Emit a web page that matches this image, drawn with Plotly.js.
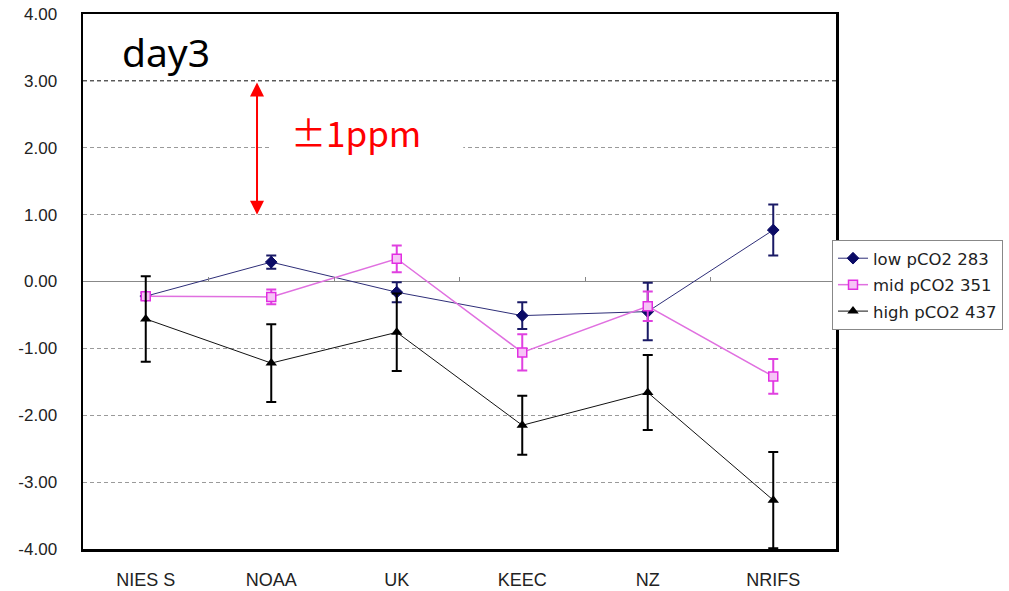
<!DOCTYPE html>
<html>
<head>
<meta charset="utf-8">
<script src="https://cdn.plot.ly/plotly-3.0.1.min.js"></script>
<style>html,body{margin:0;padding:0;background:#fff;}#chart{width:1009px;height:591px;}</style>
</head>
<body>
<div id="chart"></div>
<script>
var categories = ["NIES S", "NOAA", "UK", "KEEC", "NZ", "NRIFS"];
var lowValues  = [-0.22, 0.29, -0.16, -0.51, -0.45, 0.77];
var lowErrors  = [0.05, 0.10, 0.15, 0.20, 0.43, 0.38];
var midValues  = [-0.22, -0.23, 0.34, -1.06, -0.37, -1.42];
var midErrors  = [0.05, 0.11, 0.20, 0.27, 0.22, 0.26];
var highValues = [-0.56, -1.22, -0.76, -2.15, -1.66, -3.27];
var highErrors = [0.64, 0.58, 0.58, 0.44, 0.56, 0.72];
var seriesNames = ["low pCO2 283", "mid pCO2 351", "high pCO2 437"];
var yTickVals = [4, 3, 2, 1, 0, -1, -2, -3, -4];
var yTickText = ["4.00", "3.00", "2.00", "1.00", "0.00", "-1.00", "-2.00", "-3.00", "-4.00"];
var boundaryTicks = [0.5, 1.5, 2.5, 3.5, 4.5];

var traces = [
  {
    x: categories, y: lowValues, name: seriesNames[0], type: "scatter", mode: "lines+markers",
    legendgroup: "a",
    line: {color: "#2e2e78", width: 1},
    marker: {symbol: "diamond", size: 9, color: "#0b0b66", line: {color: "#0b0b66", width: 1}},
    error_y: {type: "data", array: lowErrors, visible: true, color: "#1a1a66", thickness: 2, width: 5}
  },
  {
    x: categories, y: midValues, name: seriesNames[1], type: "scatter", mode: "lines+markers",
    legendgroup: "b",
    line: {color: "#e070e0", width: 1.5},
    marker: {symbol: "square", size: 9, color: "#f6c4f6", line: {color: "#e22ee2", width: 1.5}},
    error_y: {type: "data", array: midErrors, visible: true, color: "#e040e0", thickness: 2, width: 5}
  },
  {
    x: categories, y: highValues, name: seriesNames[2], type: "scatter", mode: "lines+markers",
    legendgroup: "c",
    line: {color: "#111111", width: 1},
    marker: {symbol: "triangle-up", size: 10, color: "#000000"},
    error_y: {type: "data", array: highErrors, visible: true, color: "#000000", thickness: 2, width: 5}
  },
  {
    x: [], y: [], xaxis: "x2", yaxis: "y", showlegend: false, hoverinfo: "skip", type: "scatter"
  }
];

var layout = {
  width: 1009, height: 591,
  margin: {l: 83, r: 173, t: 14, b: 42, autoexpand: false},
  paper_bgcolor: "#ffffff", plot_bgcolor: "#ffffff",
  font: {family: "Liberation Sans, Arial, sans-serif", color: "#222"},
  showlegend: true,
  legend: {
    x: 0.9947, y: 0.5776, xanchor: "left", yanchor: "top",
    bgcolor: "#ffffff", bordercolor: "#888", borderwidth: 1,
    font: {family: "DejaVu Sans, sans-serif", size: 16.5, color: "#222"},
    tracegroupgap: 2
  },
  xaxis: {
    type: "category", range: [-0.5, 5.5],
    showgrid: false, zeroline: false,
    showline: true, linecolor: "#000", linewidth: 2.5, mirror: true,
    ticks: "", ticklabelstandoff: 13,
    tickfont: {size: 18, color: "#222"}
  },
  xaxis2: {
    overlaying: "x", anchor: "free", position: 0.5, side: "bottom",
    type: "linear", range: [-0.5, 5.5],
    tickvals: boundaryTicks, ticks: "inside", ticklen: 5, tickcolor: "#888", tickwidth: 1,
    showticklabels: false, showgrid: false, zeroline: false, showline: false
  },
  yaxis: {
    range: [-4, 4], tickvals: yTickVals, ticktext: yTickText,
    showgrid: true, gridcolor: "#9a9a9a", gridwidth: 1, griddash: "4px,3px",
    zeroline: true, zerolinecolor: "#888", zerolinewidth: 1,
    showline: true, linecolor: "#000", linewidth: 2.5, mirror: true,
    ticks: "", ticklabelstandoff: 20,
    tickfont: {size: 17, color: "#222"}
  },
  shapes: [
    {type: "rect", xref: "paper", yref: "y", x0: 0.248, x1: 0.505, y0: 1.85, y1: 2.15,
     fillcolor: "#ffffff", line: {width: 0}, layer: "above"},
    {type: "line", xref: "paper", yref: "y", x0: 0, x1: 1, y0: 3, y1: 3,
     line: {color: "#333", width: 1, dash: "4px,3px"}, layer: "above"}
  ],
  annotations: [
    {xref: "paper", yref: "paper", x: 0.1096, y: 0.929, xanchor: "center", yanchor: "middle",
     text: "day3", showarrow: false, font: {family: "Noto Sans, sans-serif", size: 39, color: "#000"}},
    {xref: "paper", yref: "paper", x: 0.362, y: 0.781, xanchor: "center", yanchor: "middle",
     text: "±1ppm", showarrow: false, font: {family: "Noto Sans CJK JP, Noto Sans, sans-serif", size: 35, color: "#ff0000"}},
    {xref: "paper", yref: "y", x: 0.2311, y: 1, axref: "pixel", ax: 0, ayref: "y", ay: 3,
     text: "", showarrow: true, arrowside: "end+start", arrowhead: 2, startarrowhead: 2,
     arrowsize: 1.4, startarrowsize: 1.4, arrowwidth: 2, arrowcolor: "#ff0000", standoff: 0, startstandoff: 0}
  ]
};

Plotly.newPlot("chart", traces, layout, {displayModeBar: false, staticPlot: true});
</script>
</body>
</html>
